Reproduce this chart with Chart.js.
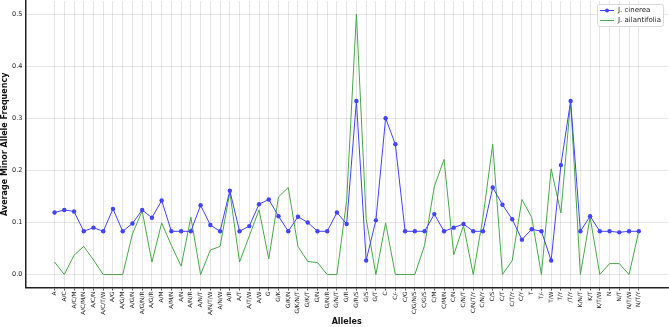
<!DOCTYPE html>
<html>
<head>
<meta charset="utf-8">
<script src="https://cdn.jsdelivr.net/npm/chart.js@4.4.1/dist/chart.umd.min.js"></script>
<style>
  html, body { margin: 0; padding: 0; background: #fff; }
  #wrap { width: 669px; height: 327px; }
</style>
</head>
<body>
<div id="wrap"><canvas id="c" width="669" height="327"></canvas></div>
<script>
const categories = ["A","A/C","A/C/M","A/C/M/N","A/C/N","A/C/T/W","A/G","A/G/M","A/G/N","A/G/N/R","A/G/R","A/M","A/M/N","A/N","A/N/R","A/N/T","A/N/T/W","A/N/W","A/R","A/T","A/T/W","A/W","G","G/K","G/K/N","G/K/N/T","G/K/T","G/N","G/N/R","G/N/T","G/R","G/R/S","G/S","G/T","C","C/-","C/G","C/G/N/S","C/G/S","C/M","C/M/N","C/N","C/N/T","C/N/T/Y","C/N/Y","C/S","C/T","C/T/Y","C/Y","T","T/-","T/W","T/Y","/T/Y","K/N/T","K/T","K/T/W","N","N/T","N/T/W","N/T/Y"];

const cinerea = [0.119,0.124,0.121,0.083,0.090,0.083,0.126,0.083,0.098,0.124,0.109,0.142,0.083,0.083,0.083,0.133,0.095,0.083,0.161,0.083,0.093,0.135,0.144,0.112,0.083,0.111,0.100,0.083,0.083,0.119,0.097,0.333,0.027,0.104,0.300,0.250,0.083,0.083,0.083,0.116,0.083,0.090,0.097,0.083,0.083,0.167,0.134,0.106,0.067,0.087,0.083,0.027,0.210,0.333,0.083,0.112,0.083,0.083,0.081,0.083,0.083];

const ailantifolia = [0.024,0.000,0.037,0.054,0.028,0.000,0.000,0.000,0.078,0.122,0.024,0.099,0.056,0.016,0.110,0.000,0.047,0.054,0.158,0.024,0.074,0.124,0.030,0.149,0.167,0.054,0.025,0.023,0.000,0.000,0.142,0.500,0.107,0.000,0.099,0.000,0.000,0.000,0.056,0.169,0.221,0.038,0.094,0.000,0.110,0.250,0.000,0.027,0.144,0.110,0.000,0.203,0.118,0.333,0.000,0.110,0.000,0.021,0.021,0.000,0.083];

const yTicks = [0.0, 0.1, 0.2, 0.3, 0.4, 0.5];
const seriesNames = ["J. cinerea", "J. ailantifolia"];

const FONT = "'DejaVu Sans', sans-serif";
const BLUE = '#4343fa';
const GREEN = '#4ca64c';
const GRID = 'rgba(0,0,0,0.14)';

const toPoints = arr => arr.map((v, i) => ({ x: i, y: v }));
const inRange = v => Number.isInteger(v) && v >= 0 && v < categories.length;
const isYTick = v => yTicks.some(t => Math.abs(t - v) < 1e-9);

const boxLegend = {
  id: 'boxLegend',
  afterDraw(chart) {
    const ctx = chart.ctx;
    const area = chart.chartArea;
    const w = 66, h = 22;
    const x0 = area.right - w - 5, y0 = area.top + 3;
    ctx.save();
    ctx.fillStyle = 'rgba(255,255,255,0.85)';
    ctx.strokeStyle = '#d0d0d0';
    ctx.lineWidth = 0.8;
    ctx.beginPath();
    if (ctx.roundRect) ctx.roundRect(x0 + 0.5, y0 + 0.5, w, h, 2); else ctx.rect(x0 + 0.5, y0 + 0.5, w, h);
    ctx.fill(); ctx.stroke();
    ctx.font = "7px " + FONT;
    ctx.textBaseline = 'middle';
    chart.data.datasets.forEach((ds, i) => {
      const yy = y0 + 6.5 + i * 10;
      ctx.strokeStyle = ds.borderColor;
      ctx.lineWidth = 1;
      ctx.beginPath();
      ctx.moveTo(x0 + 3, yy); ctx.lineTo(x0 + 17, yy);
      ctx.stroke();
      if (ds.pointRadius > 0) {
        ctx.fillStyle = ds.pointBackgroundColor;
        ctx.beginPath(); ctx.arc(x0 + 10, yy, 2, 0, Math.PI * 2); ctx.fill();
      }
      ctx.fillStyle = '#222';
      ctx.fillText(ds.label, x0 + 21, yy);
    });
    ctx.restore();
  }
};

new Chart(document.getElementById('c'), {
  type: 'line',
  data: {
    datasets: [
      {
        label: seriesNames[0],
        data: toPoints(cinerea),
        borderColor: BLUE,
        backgroundColor: BLUE,
        pointBackgroundColor: BLUE,
        pointBorderColor: BLUE,
        pointRadius: 2.2,
        pointBorderWidth: 0,
        borderWidth: 1,
        tension: 0
      },
      {
        label: seriesNames[1],
        data: toPoints(ailantifolia),
        borderColor: GREEN,
        backgroundColor: GREEN,
        pointBackgroundColor: GREEN,
        pointRadius: 0,
        borderWidth: 1,
        tension: 0
      }
    ]
  },
  options: {
    responsive: false,
    animation: false,
    devicePixelRatio: 1,
    layout: { autoPadding: false, padding: { left: 0, right: 1, top: 1, bottom: 0 } },
    plugins: {
      legend: { display: false },
      tooltip: { enabled: false }
    },
    scales: {
      x: {
        type: 'linear',
        min: -3,
        max: categories.length + 2,
        afterFit: s => { s.paddingLeft = 0; s.paddingRight = 0; },
        border: { display: true, color: '#222', width: 1.5 },
        grid: {
          drawTicks: true,
          tickLength: 3,
          lineWidth: 0.7,
          borderDash: [1.2, 1.8],
          color: c => inRange(c.tick.value) ? GRID : 'rgba(0,0,0,0)',
          tickColor: c => inRange(c.tick.value) ? '#333' : 'rgba(0,0,0,0)',
          tickBorderDash: [],
          tickWidth: 0.8
        },
        ticks: {
          stepSize: 1,
          autoSkip: false,
          maxTicksLimit: 200,
          minRotation: 90,
          maxRotation: 90,
          padding: 1,
          color: '#222',
          font: { family: FONT, size: 5.8 },
          callback: v => inRange(v) ? categories[v] : ''
        },
        title: {
          display: true,
          text: 'Alleles',
          color: '#111',
          font: { family: FONT, size: 8, weight: 'bold', lineHeight: 1 },
          padding: { top: 2, bottom: 1 }
        }
      },
      y: {
        type: 'linear',
        min: -0.025,
        max: 0.525,
        afterFit: s => { s.paddingTop = 0; s.paddingBottom = 0; },
        border: { display: true, color: '#222', width: 1.5 },
        grid: {
          drawTicks: false,
          lineWidth: 0.7,
          borderDash: [1.2, 1.8],
          color: c => isYTick(c.tick.value) ? GRID : 'rgba(0,0,0,0)'
        },
        ticks: {
          stepSize: 0.1,
          includeBounds: false,
          padding: 3,
          color: '#222',
          font: { family: FONT, size: 6.5 },
          callback: v => isYTick(v) ? Number(v).toFixed(1) : ''
        },
        title: {
          display: true,
          text: 'Average Minor Allele Frequency',
          color: '#111',
          font: { family: FONT, size: 8, weight: 'bold', lineHeight: 1 },
          padding: { top: 1, bottom: 0 }
        }
      }
    }
  },
  plugins: [boxLegend]
});
</script>
</body>
</html>
